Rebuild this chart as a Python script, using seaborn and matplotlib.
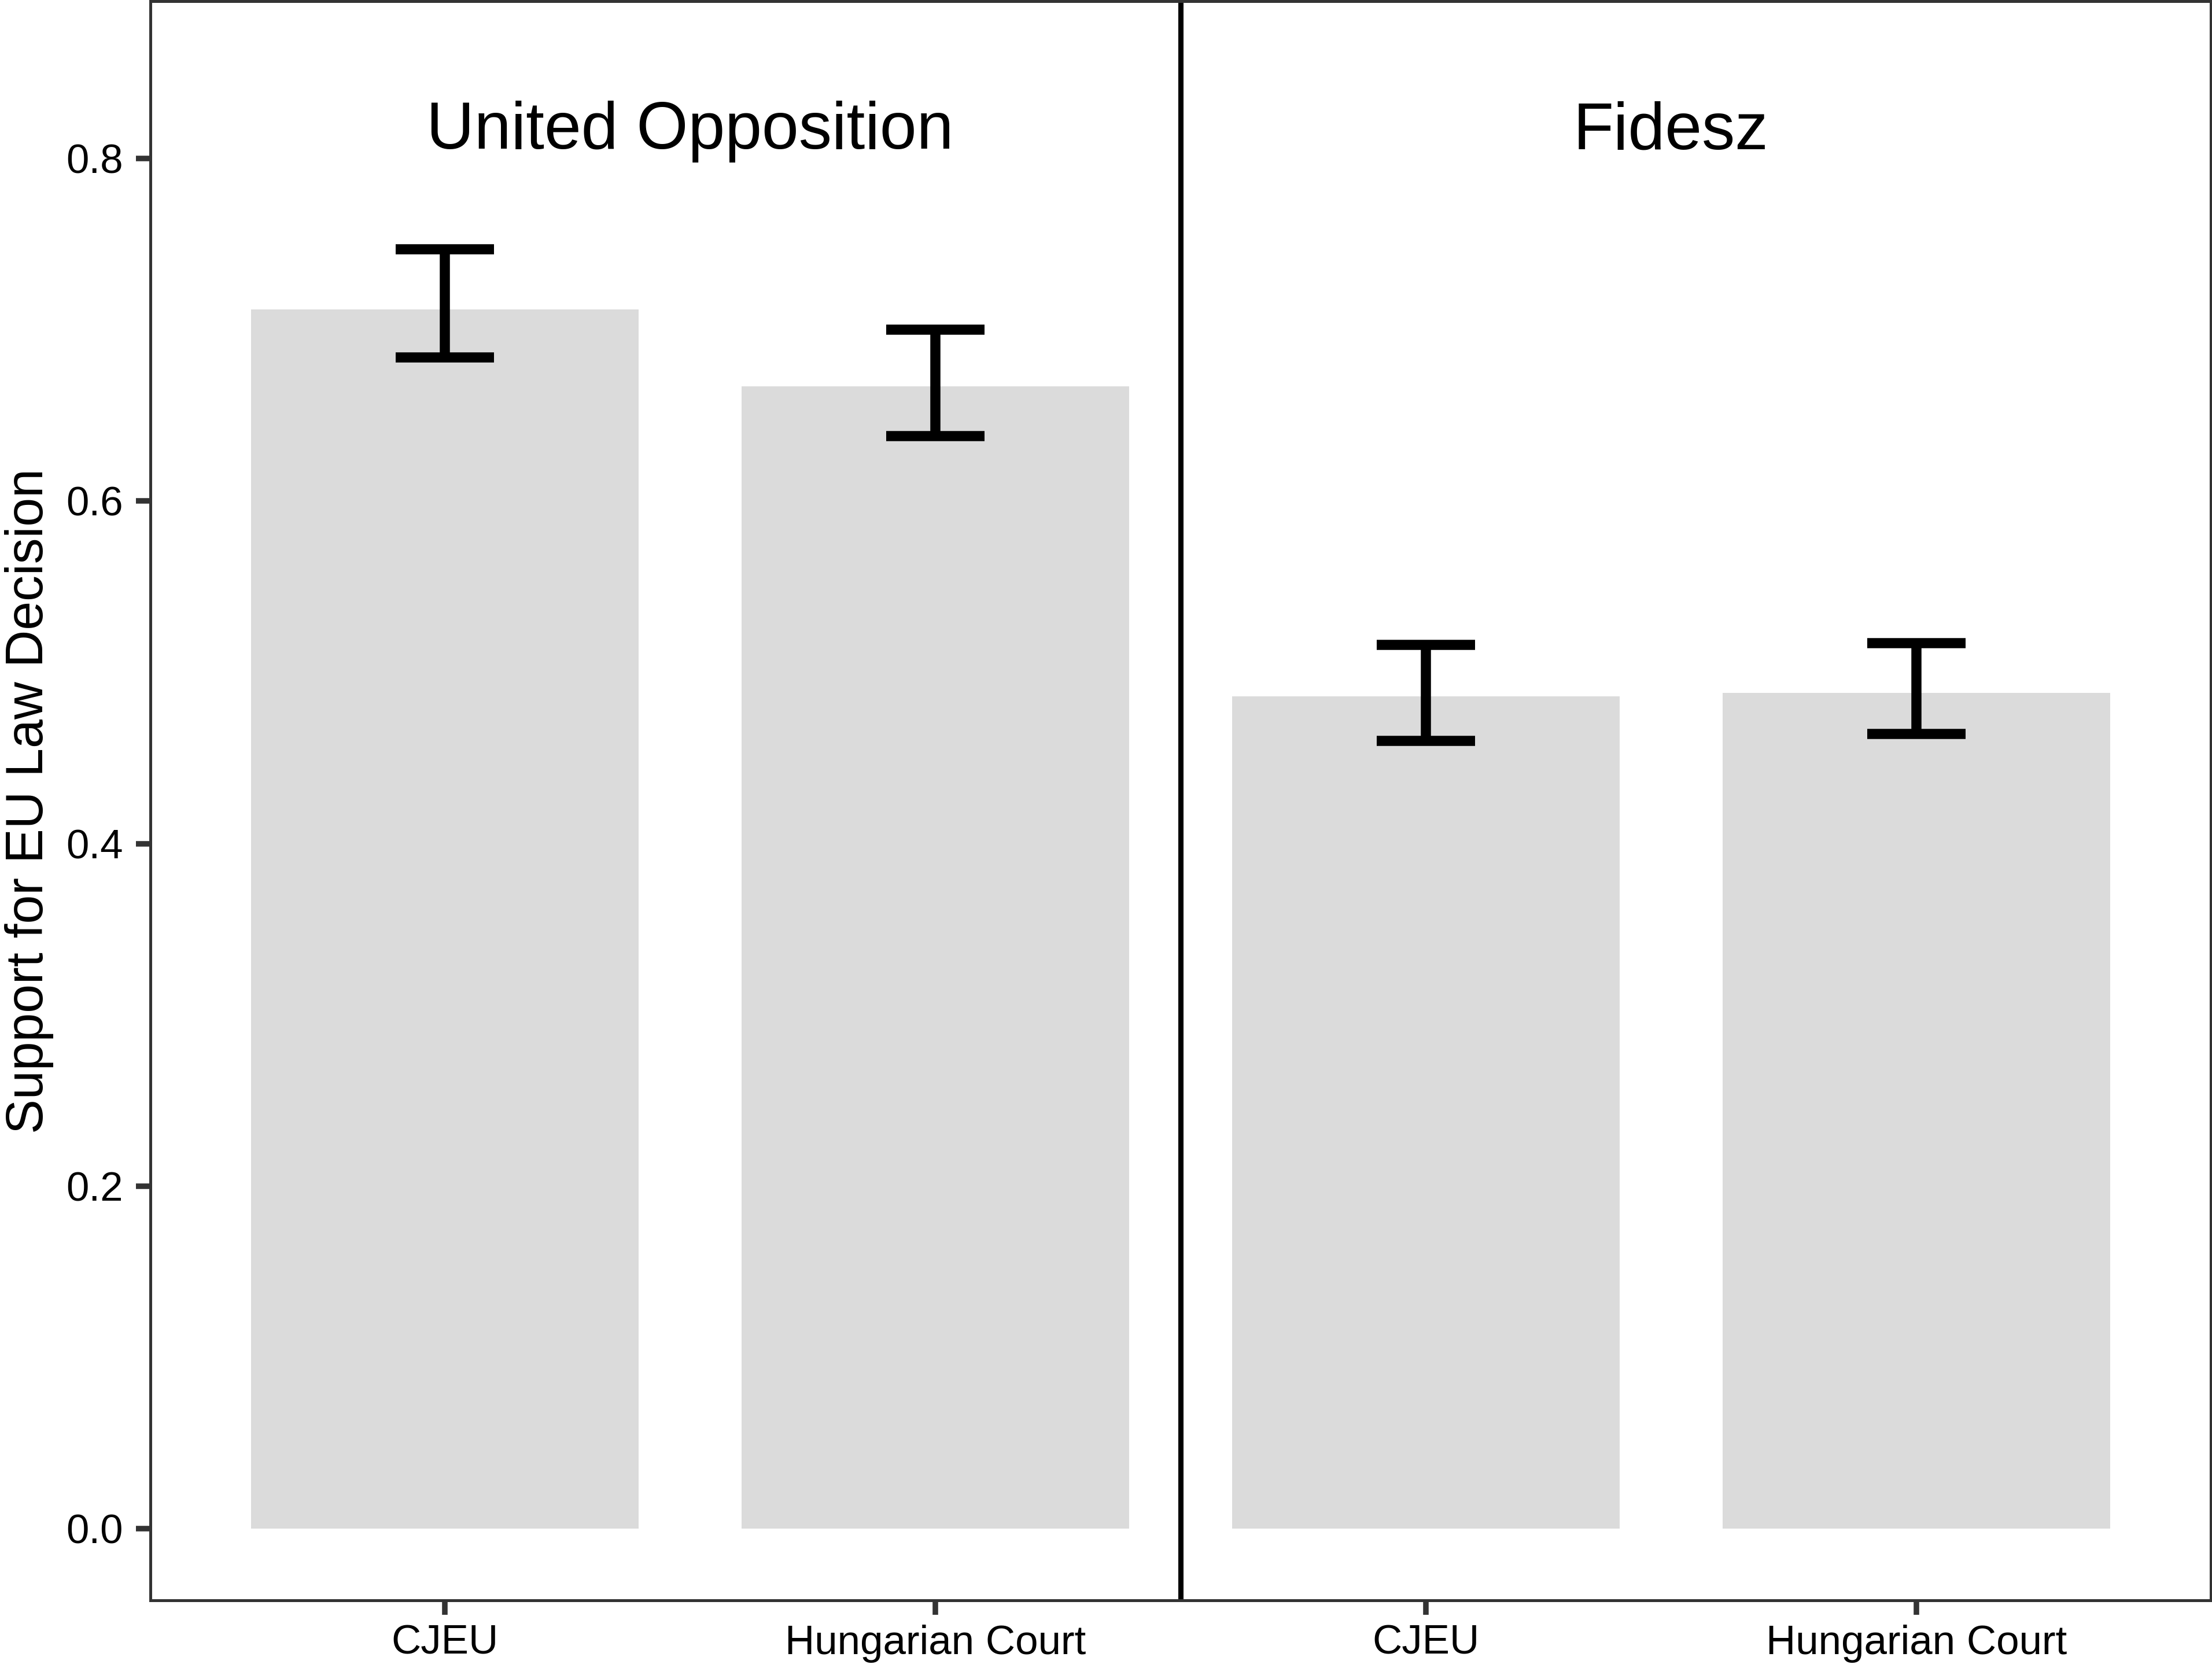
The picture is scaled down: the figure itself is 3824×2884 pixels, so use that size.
import matplotlib
matplotlib.use("Agg")
import matplotlib.pyplot as plt
import seaborn as sns
import pandas as pd
import numpy as np

# ---- data ----
parties = ["United Opposition", "United Opposition", "Fidesz", "Fidesz"]
courts = ["CJEU", "Hungarian Court", "CJEU", "Hungarian Court"]
support = [0.712, 0.667, 0.486, 0.488]
ci_low = [0.684, 0.638, 0.460, 0.464]
ci_high = [0.747, 0.700, 0.516, 0.517]
y_ticks = [0.0, 0.2, 0.4, 0.6, 0.8]
y_label = "Support for EU Law Decision"
panel_order = ["United Opposition", "Fidesz"]

df = pd.DataFrame({"party": parties, "court": courts, "support": support,
                   "low": ci_low, "high": ci_high})
df["key"] = df["party"] + " | " + df["court"]

plt.rcParams["font.family"] = ["Liberation Sans", "DejaVu Sans"]

W, H, DPI = 3824, 2884, 300
fig = plt.figure(figsize=(W / DPI, H / DPI), dpi=DPI)
left, right = 260 / W, 3821.6 / W
bottom, top = 1 - 2767.3 / H, 1 - 2.35 / H
ax = fig.add_axes([left, bottom, right - left, top - bottom])

sns.barplot(data=df, x="key", y="support", order=list(df["key"]),
            color="#DBDBDB", saturation=1, width=0.79, errorbar=None,
            linewidth=0, edgecolor="none", ax=ax, zorder=1)

pos = np.arange(len(df))
lw_err = 4.2
vl = ax.vlines(pos, df["low"], df["high"], colors="black", linewidth=lw_err, zorder=3)
vl.set_capstyle("butt")
cap_half = 0.1
for yy in (df["low"], df["high"]):
    hl = ax.hlines(yy, pos - cap_half, pos + cap_half, colors="black",
                   linewidth=lw_err, zorder=3)
    hl.set_capstyle("butt")

# separator between the two party groups
grp_idx = [pos[df["party"].values == p] for p in panel_order]
sep = (grp_idx[0].max() + grp_idx[1].min()) / 2
ax.axvline(sep, color="black", linewidth=2.16, zorder=2)

# group titles
for p, idx in zip(panel_order, grp_idx):
    ax.text(idx.mean(), 0.8057, p, ha="center", va="baseline",
            fontsize=27.5, color="black")

ax.set_xlim(-0.6, len(df) - 0.4)
ax.set_ylim(-0.0418, 0.8917)
ax.set_yticks(y_ticks)
ax.set_yticklabels([f"{t:.1f}" for t in y_ticks])
ax.set_xticks(pos)
ax.set_xticklabels(df["court"])
ax.set_xlabel("")
ax.set_ylabel(y_label, fontsize=21.5, labelpad=5, color="black")

for s in ax.spines.values():
    s.set_visible(True)
    s.set_color("#333333")
    s.set_linewidth(1.2)
    s.set_zorder(4)
ax.tick_params(axis="both", direction="out", length=6, width=2.3,
               color="#333333", labelsize=17, labelcolor="black")
ax.tick_params(axis="x", pad=4)
ax.tick_params(axis="y", pad=5.3)
ax.grid(False)
ax.set_facecolor("white")
fig.patch.set_facecolor("white")

fig.savefig("out.png", dpi=DPI)
